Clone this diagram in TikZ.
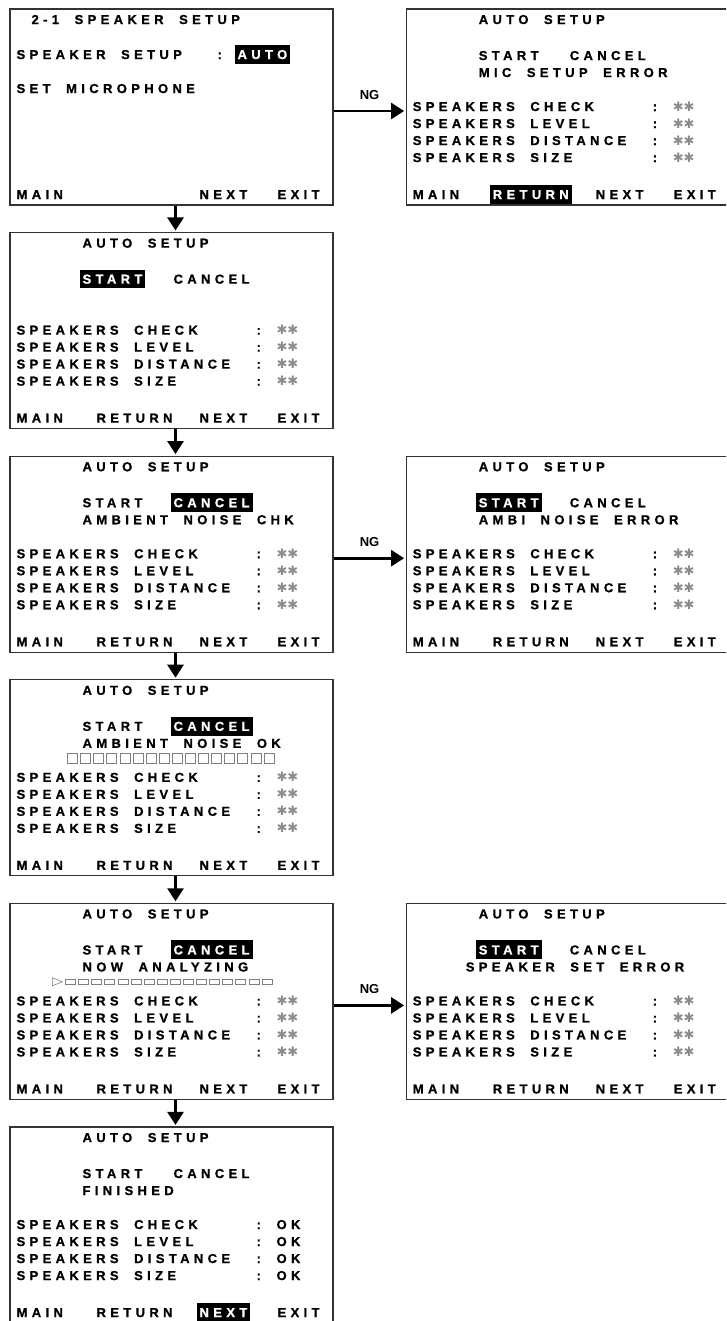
\documentclass[tikz,border=0pt]{standalone}
\usepackage{fontspec}
\usepackage{tikz}
\usetikzlibrary{arrows.meta, positioning, calc}

\newfontfamily\lcdfamily{Liberation Sans}[UprightFont={* Bold}, LetterSpace=33.5, WordSpace=1.95, FakeBold=1]
\newfontfamily\ngfamily{Liberation Sans}
\newfontfamily\starfamily{DejaVu Sans}
\newcommand\lcd{\lcdfamily\fontsize{13}{15}\selectfont}

% title and START / CANCEL line of an AUTO SETUP screen
\newcommand\autohead[3]{%
	\node[txt] (#1-title) at ($(#1.north west)+(70,11)$) {AUTO SETUP};
	\node[#2] (#1-start) at ($(#1.north west)+(70,47)$) {START};
	\node[#3] (#1-cancel) at ($(#1.north west)+(161,47)$) {CANCEL};}

% the four SPEAKERS lines
\newcommand\spkrows[3]{%
	\foreach \lbl [count=\i from 0] in {CHECK,LEVEL,DISTANCE,SIZE}{
		\node[txt] (#1-\lbl) at ($(#1.north west)+(4,98+17*\i)$) {SPEAKERS \lbl};
		\node[txt] (#1-\lbl-c) at ($(#1.north west)+(244,98+17*\i)$) {:};
		\node[#2] (#1-\lbl-v) at ($(#1.north west)+(264,98+17*\i)$) {#3};
	}}

% MAIN RETURN NEXT EXIT line
\newcommand\keyrow[5]{%
	\node[#2] (#1-main) at ($(#1.north west)+(4,186)$) {MAIN};
	\node[#3] (#1-return) at ($(#1.north west)+(84,186)$) {RETURN};
	\node[#4] (#1-next) at ($(#1.north west)+(187,186)$) {NEXT};
	\node[#5] (#1-exit) at ($(#1.north west)+(265,186)$) {EXIT};}

\begin{document}
\begin{tikzpicture}[
	x=1pt, y=-1pt,
	node distance=26.4pt and 72pt,
	screen/.style={draw=black!80, line width=1.2pt, minimum width=323pt, minimum height=196pt, inner sep=0pt},
	txt/.style={anchor=west, font=\lcd, inner xsep=3pt, inner ysep=4.7pt, text height=9.3pt, text depth=0pt},
	hl/.style={txt, fill=black, text=white},
	star/.style={txt, font=\starfamily\fontsize{13}{14}\selectfont, text=black!45},
	cell/.style={draw=black!50, line width=0.6pt},
	flow/.style={-{Triangle[width=16pt,length=13pt]}, line width=2.6pt, shorten >=1.5pt},
	ng/.style={font=\ngfamily\bfseries\fontsize{13}{15}\selectfont, inner sep=0pt, above=10pt}
	]
	
	\useasboundingbox (0,0) rectangle (726,1321);
	\clip (0,0) rectangle (726,1321);
	
	% Screens
	\node[screen] (setup) at (171.5,107) {};
	\node[screen, below=of setup] (start) {};
	\node[screen, below=of start] (noise) {};
	\node[screen, below=of noise] (noiseok) {};
	\node[screen, below=of noiseok] (analyze) {};
	\node[screen, below=of analyze] (done) {};
	
	\node[screen, right=of setup] (micerr) {};
	\node[screen, right=of noise] (noiseerr) {};
	\node[screen, right=of analyze] (spkerr) {};
	
	% 2-1 speaker setup
	\node[txt] (setup-title) at ($(setup.north west)+(19,11)$) {2-1 SPEAKER SETUP};
	\node[txt] (setup-spk) at ($(setup.north west)+(4,46)$) {SPEAKER SETUP};
	\node[txt] (setup-c) at ($(setup.north west)+(205,46)$) {:};
	\node[hl] (setup-auto) at ($(setup.north west)+(225,46)$) {AUTO};
	\node[txt] (setup-mic) at ($(setup.north west)+(4,80)$) {SET MICROPHONE};
	\node[txt] (setup-main) at ($(setup.north west)+(4,186)$) {MAIN};
	\node[txt] (setup-next) at ($(setup.north west)+(187,186)$) {NEXT};
	\node[txt] (setup-exit) at ($(setup.north west)+(265,186)$) {EXIT};
	
	% Start
	\autohead{start}{hl}{txt}
	\spkrows{start}{star}{✱✱}
	\keyrow{start}{txt}{txt}{txt}{txt}
	
	% Ambient noise check
	\autohead{noise}{txt}{hl}
	\node[txt] (noise-msg) at ($(noise.north west)+(70,64)$) {AMBIENT NOISE CHK};
	\spkrows{noise}{star}{✱✱}
	\keyrow{noise}{txt}{txt}{txt}{txt}
	
	% Ambient noise ok
	\autohead{noiseok}{txt}{hl}
	\node[txt] (noiseok-msg) at ($(noiseok.north west)+(70,64)$) {AMBIENT NOISE OK};
	\foreach \i in {0,...,15}
		\draw[cell] ($(noiseok.north west)+(58+13.1*\i,74)$) rectangle ++(10,10);
	\spkrows{noiseok}{star}{✱✱}
	\keyrow{noiseok}{txt}{txt}{txt}{txt}
	
	% Now analyzing
	\autohead{analyze}{txt}{hl}
	\node[txt] (analyze-msg) at ($(analyze.north west)+(70,64)$) {NOW ANALYZING};
	\draw[cell] ($(analyze.north west)+(43,75)$) -- ++(10,4) -- ++(-10,4) -- cycle;
	\foreach \i in {0,...,15}
		\draw[cell] ($(analyze.north west)+(56+13.1*\i,76.5)$) rectangle ++(10,5);
	\spkrows{analyze}{star}{✱✱}
	\keyrow{analyze}{txt}{txt}{txt}{txt}
	
	% Finished
	\autohead{done}{txt}{txt}
	\node[txt] (done-msg) at ($(done.north west)+(70,64)$) {FINISHED};
	\spkrows{done}{txt}{OK}
	\keyrow{done}{txt}{txt}{hl}{txt}
	
	% Error screens
	\autohead{micerr}{txt}{txt}
	\node[txt] (micerr-msg) at ($(micerr.north west)+(70,64)$) {MIC SETUP ERROR};
	\spkrows{micerr}{star}{✱✱}
	\keyrow{micerr}{txt}{hl}{txt}{txt}
	
	\autohead{noiseerr}{hl}{txt}
	\node[txt] (noiseerr-msg) at ($(noiseerr.north west)+(70,64)$) {AMBI NOISE ERROR};
	\spkrows{noiseerr}{star}{✱✱}
	\keyrow{noiseerr}{txt}{txt}{txt}{txt}
	
	\autohead{spkerr}{hl}{txt}
	\node[txt] (spkerr-msg) at ($(spkerr.north west)+(57,64)$) {SPEAKER SET ERROR};
	\spkrows{spkerr}{star}{✱✱}
	\keyrow{spkerr}{txt}{txt}{txt}{txt}
	
	% Flow down
	\draw[flow] ([xshift=4pt]setup.south) -- ([xshift=4pt]start.north);
	\draw[flow] ([xshift=4pt]start.south) -- ([xshift=4pt]noise.north);
	\draw[flow] ([xshift=4pt]noise.south) -- ([xshift=4pt]noiseok.north);
	\draw[flow] ([xshift=4pt]noiseok.south) -- ([xshift=4pt]analyze.north);
	\draw[flow] ([xshift=4pt]analyze.south) -- ([xshift=4pt]done.north);
	
	% NG branches
	\coordinate (micerr-in) at ($(micerr.west)+(0,4)$);
	\coordinate (noiseerr-in) at ($(noiseerr.west)+(0,4)$);
	\coordinate (spkerr-in) at ($(spkerr.west)+(0,4)$);
	\draw[flow] (setup.east |- micerr-in) -- node[ng] (ng1) {NG} (micerr-in);
	\draw[flow] (noise.east |- noiseerr-in) -- node[ng] (ng2) {NG} (noiseerr-in);
	\draw[flow] (analyze.east |- spkerr-in) -- node[ng] (ng3) {NG} (spkerr-in);
	
\end{tikzpicture}
\end{document}
